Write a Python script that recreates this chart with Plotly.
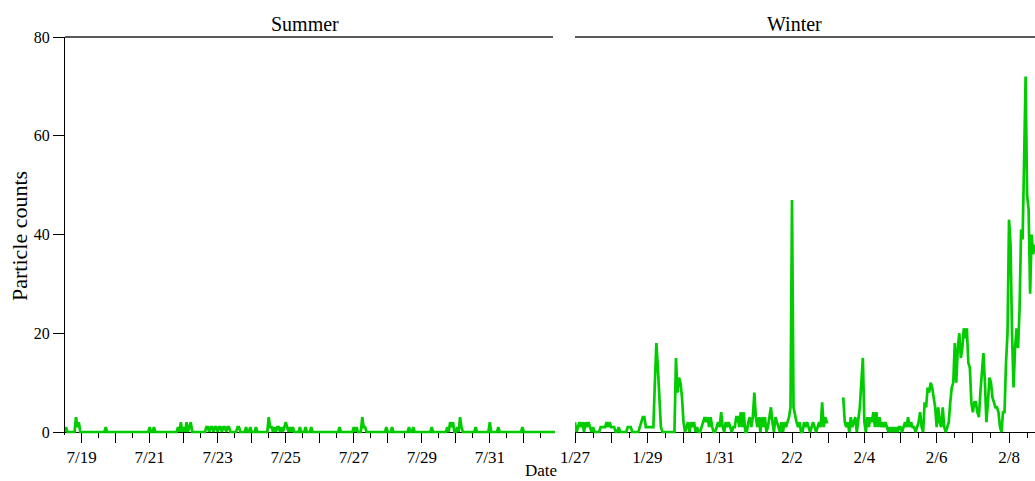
import pandas as pd
import plotly.graph_objects as go

W, H = 1035, 481
FONT = "Liberation Serif"
LINE_GREEN = "#00cc00"

# ---------------- data ----------------
# Hourly particle counts, summer campaign (first row starts 7/18 12:00)
summer_start = "2014-07-18 12:00"
summer_rows = [
    [0, 1, 0, 0, 0, 0, 0, 0, 3, 1, 2, 0],                                        # 7/18 (12-23h)
    [0, 0, 0, 0, 0, 0, 0, 0, 0, 0, 0, 0, 0, 0, 0, 0, 0, 1, 0, 0, 0, 0, 0, 0],   # 7/19
    [0, 0, 0, 0, 0, 0, 0, 0, 0, 0, 0, 0, 0, 0, 0, 0, 0, 0, 0, 0, 0, 0, 0, 0],   # 7/20
    [1, 0, 0, 1, 0, 0, 0, 0, 0, 0, 0, 0, 0, 0, 0, 0, 0, 0, 0, 0, 1, 0, 2, 0],   # 7/21
    [1, 0, 2, 0, 1, 2, 0, 0, 0, 0, 0, 0, 0, 0, 0, 0, 1, 1, 0, 1, 1, 0, 1, 1],   # 7/22
    [0, 1, 1, 0, 1, 1, 0, 1, 1, 0, 0, 0, 0, 0, 1, 1, 0, 0, 0, 0, 1, 0, 0, 1],   # 7/23
    [0, 0, 0, 1, 0, 0, 0, 0, 0, 0, 0, 0, 3, 1, 1, 0, 1, 0, 1, 1, 0, 1, 0, 1],   # 7/24
    [2, 1, 0, 1, 0, 1, 0, 0, 0, 0, 1, 0, 0, 0, 1, 0, 0, 0, 1, 0, 0, 0, 0, 0],   # 7/25
    [0, 0, 0, 0, 0, 0, 0, 0, 0, 0, 0, 0, 0, 0, 1, 0, 0, 0, 0, 0, 0, 0, 0, 0],   # 7/26
    [1, 0, 1, 0, 0, 0, 3, 1, 1, 0, 0, 0, 0, 0, 0, 0, 0, 0, 0, 0, 0, 0, 0, 1],   # 7/27
    [0, 0, 0, 1, 0, 0, 0, 0, 0, 0, 0, 0, 0, 0, 0, 1, 0, 0, 1, 0, 0, 0, 0, 0],   # 7/28
    [0, 0, 0, 0, 0, 0, 0, 1, 0, 0, 0, 0, 0, 0, 0, 0, 0, 0, 1, 0, 2, 1, 2, 0],   # 7/29
    [0, 1, 0, 3, 1, 0, 0, 0, 0, 0, 0, 0, 0, 0, 1, 0, 0, 0, 0, 0, 0, 0, 0, 0],   # 7/30
    [2, 0, 0, 0, 0, 0, 1, 0, 0, 0, 0, 0, 0, 0, 0, 0, 0, 0, 0, 0, 0, 0, 0, 1],   # 7/31
    [0, 0, 0, 0, 0, 0, 0, 0, 0, 0, 0, 0, 0, 0, 0, 0, 0, 0, 0, 0, 0, 0, 0, 0],   # 8/1
]

# Hourly particle counts, winter campaign (first row starts 1/27 00:00)
winter_start = "2015-01-27 00:00"
winter_rows = [
    [2, 0, 1, 2, 1, 2, 0, 2, 1, 2, 1, 0, 1, 0, 0, 0, 0, 1, 1, 1, 1, 2, 1, 2],          # 1/27
    [1, 1, 1, 0, 0, 1, 0, 0, 0, 0, 0, 1, 1, 1, 0, 0, 0, 0, 0, 1, 2, 3, 3, 1],          # 1/28
    [1, 1, 1, 1, 1, 10, 18, 13, 6, 1, 0, 0, 0, 0, 0, 0, 0, 0, 0, 15, 8, 11, 10, 7],    # 1/29
    [2, 0, 1, 2, 0, 2, 1, 2, 0, 1, 0, 0, 1, 2, 3, 2, 3, 1, 3, 1, 0, 0, 1, 2],          # 1/30
    [1, 4, 1, 0, 2, 1, 2, 1, 0, 1, 1, 3, 3, 1, 4, 1, 4, 0, 0, 2, 3, 1, 3, 8],          # 1/31
    [3, 1, 3, 0, 3, 1, 3, 0, 1, 3, 5, 2, 0, 3, 2, 1, 0, 2, 0, 2, 1, 2, 3, 5],          # 2/1
    [47, 5, 3, 2, 1, 2, 0, 0, 2, 1, 2, 1, 0, 1, 2, 1, 0, 1, 2, 1, 6, 1, 3, 2],         # 2/2
    [2, None, None, None, None, None, None, None, None, None,
     7, 2, 1, 2, 0, 3, 1, 2, 3, 0, 3, 5, 10, 15],                                      # 2/3
    [2, 0, 3, 1, 3, 2, 4, 1, 4, 1, 3, 1, 2, 1, 2, 1, 0, 1, 0, 1, 0, 1, 0, 1],          # 2/4
    [1, 0, 1, 2, 1, 3, 1, 2, 1, 1, 0, 1, 2, 4, 1, 0, 6, 5, 9, 8, 10, 9, 7, 5],         # 2/5
    [1, 5, 2, 1, 5, 1, 0, 1, 2, 6, 9, 10, 18, 10, 17, 20, 15, 17, 21, 19, 21, 14, 13, 6],  # 2/6
    [4, 6, 6, 4, 3, 8, 12, 16, 10, 2, 6, 11, 10, 7, 6, 5, 5, 4, 1, 0, 4, 4, 14, 20],   # 2/7
    [43, 38, 20, 9, 17, 21, 17, 25, 41, 39, 55, 72, 48, 45, 28, 40, 36, 38],           # 2/8
]

# Daily tick positions and their labels (every other day labelled)
summer_tick_days = ["2014-07-19", "2014-07-20", "2014-07-21", "2014-07-22", "2014-07-23",
                    "2014-07-24", "2014-07-25", "2014-07-26", "2014-07-27", "2014-07-28",
                    "2014-07-29", "2014-07-30", "2014-07-31", "2014-08-01"]
summer_tick_labels = ["7/19", "", "7/21", "", "7/23", "", "7/25", "", "7/27", "", "7/29", "", "7/31", ""]
winter_tick_days = ["2015-01-27", "2015-01-28", "2015-01-29", "2015-01-30", "2015-01-31",
                    "2015-02-01", "2015-02-02", "2015-02-03", "2015-02-04", "2015-02-05",
                    "2015-02-06", "2015-02-07", "2015-02-08"]
winter_tick_labels = ["1/27", "", "1/29", "", "1/31", "", "2/2", "", "2/4", "", "2/6", "", "2/8"]
y_ticks = [0, 20, 40, 60, 80]

panel_titles = ["Summer", "Winter"]


def hourly_series(start, rows):
    values = [v for row in rows for v in row]
    times = pd.date_range(start=start, periods=len(values), freq="h")
    return times, values


summer_t, summer_v = hourly_series(summer_start, summer_rows)
winter_t, winter_v = hourly_series(winter_start, winter_rows)


# ---------------- layout helpers (pixel -> paper) ----------------
def px_x(p):
    return p / W


def px_y(p):
    return 1 - p / H


Y_TOP, Y_ZERO, Y_BOTTOM = 37, 432, 435
PX_PER_UNIT = (Y_ZERO - Y_TOP) / 80.0
y_low = -(Y_BOTTOM - Y_ZERO) / PX_PER_UNIT

fig = go.Figure()
fig.add_trace(go.Scatter(x=summer_t, y=summer_v, mode="lines", xaxis="x", yaxis="y",
                         line=dict(color=LINE_GREEN, width=2.7), showlegend=False))
fig.add_trace(go.Scatter(x=winter_t, y=winter_v, mode="lines", xaxis="x2", yaxis="y2",
                         line=dict(color=LINE_GREEN, width=2.7), showlegend=False))

tick_font = dict(family=FONT, size=17, color="black")

common_x = dict(
    anchor="free", position=px_y(Y_ZERO), layer="below traces", automargin=False,
    showline=True, linecolor="black", linewidth=1,
    showgrid=False, zeroline=False,
    tickmode="array", ticks="outside", ticklen=10, tickwidth=1, tickcolor="black",
    tickfont=tick_font,
)

fig.update_layout(
    template="none",
    width=W, height=H,
    margin=dict(l=0, r=0, t=0, b=0, pad=0, autoexpand=False),
    paper_bgcolor="white", plot_bgcolor="white",
    font=dict(family=FONT, color="black"),
    showlegend=False,
    xaxis=dict(
        domain=[px_x(65), px_x(555)],
        range=["2014-07-18 12:15", "2014-08-01 22:00"],
        tickvals=summer_tick_days, ticktext=summer_tick_labels,
        minor=dict(dtick=12 * 3600 * 1000, tick0="2014-07-18", ticks="outside",
                   ticklen=5, tickwidth=1, tickcolor="black", showgrid=False),
        **common_x,
    ),
    xaxis2=dict(
        domain=[px_x(575), 1.0],
        range=["2015-01-27 00:00", "2015-02-08 17:14"],
        tickvals=winter_tick_days, ticktext=winter_tick_labels,
        minor=dict(dtick=12 * 3600 * 1000, tick0="2015-01-27", ticks="outside",
                   ticklen=5, tickwidth=1, tickcolor="black", showgrid=False),
        **common_x,
    ),
    yaxis=dict(
        domain=[px_y(Y_BOTTOM), px_y(Y_TOP)], range=[y_low, 80],
        anchor="x", automargin=False, showline=True, linecolor="black", linewidth=1,
        showgrid=False, zeroline=False,
        tickmode="array", tickvals=y_ticks, ticks="outside", ticklen=11,
        tickwidth=1, tickcolor="black", tickfont=dict(family=FONT, size=16, color="black"),
    ),
    yaxis2=dict(
        domain=[px_y(Y_BOTTOM), px_y(Y_TOP)], range=[y_low, 80],
        anchor="x2", automargin=False, showline=False, showgrid=False, zeroline=False,
        showticklabels=False, ticks="",
    ),
)

# strip lines on top of each panel
for x0, x1 in [(65, 553), (575, 1035)]:
    fig.add_shape(type="line", xref="paper", yref="paper",
                  x0=px_x(x0), x1=px_x(x1), y0=px_y(Y_TOP), y1=px_y(Y_TOP),
                  line=dict(color="#222222", width=1.3))

# panel titles
for title, cx in zip(panel_titles, [305, 794]):
    fig.add_annotation(text=title, xref="paper", yref="paper", x=px_x(cx), y=px_y(24),
                       xanchor="center", yanchor="middle", showarrow=False,
                       font=dict(family=FONT, size=20, color="black"))

# axis titles
fig.add_annotation(text="Date", xref="paper", yref="paper", x=px_x(541), y=0,
                   xanchor="center", yanchor="bottom", showarrow=False, borderpad=0,
                   font=dict(family=FONT, size=17, color="black"))
fig.add_annotation(text="Particle counts", xref="paper", yref="paper", x=px_x(19), y=px_y(236),
                   xanchor="center", yanchor="middle", textangle=-90, showarrow=False,
                   font=dict(family=FONT, size=22, color="black"))

fig.write_html("out.html")
